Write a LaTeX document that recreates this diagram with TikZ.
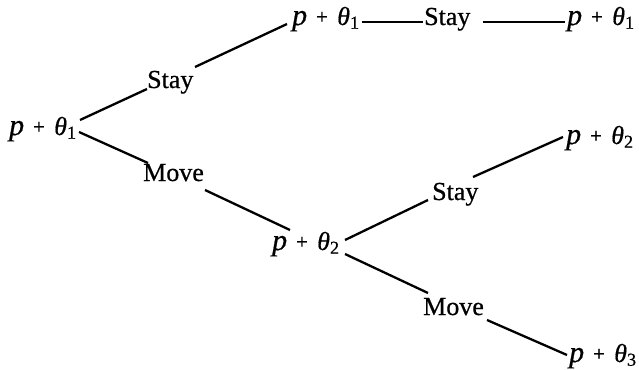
\documentclass[tikz,border=0pt]{standalone}
\usepackage{fontspec}
\setmainfont{Liberation Serif}[FakeBold=0.6]
\newcommand\pplus[1]{{\fontsize{30}{31}\selectfont\textit{p}}\hspace{0.34em}{\fontsize{21}{31}\selectfont\raisebox{0.06em}{+}}\hspace{0.36em}\textit{θ}\textsubscript{#1}}
\tikzset{
  lbl/.style={inner sep=0pt, anchor=base west, font=\fontsize{26}{31}\selectfont},
  branch/.style={line width=2.3pt},
}
\begin{document}
\begin{tikzpicture}[x=1pt,y=-1pt]
\useasboundingbox (0,0) rectangle (639,369);
\node[lbl] (A)  at (9,135)   {\pplus{1}};
\node[lbl] (S1) at (147,88)  {Stay};
\node[lbl] (M1) at (143,181) {Move};
\node[lbl] (B)  at (292,25)  {\pplus{1}};
\node[lbl] (ST) at (424,25)  {Stay};
\node[lbl] (C)  at (567,25)  {\pplus{1}};
\node[lbl] (D)  at (566,144) {\pplus{2}};
\node[lbl] (S2) at (432,200) {Stay};
\node[lbl] (E)  at (272,250) {\pplus{2}};
\node[lbl] (M2) at (423,315) {Move};
\node[lbl] (F)  at (569,362) {\pplus{3}};
\draw[branch] ([shift={(71,-15)}]A.base west) -- ([shift={(0,1)}]S1.base west);
\draw[branch] ([shift={(48,-21)}]S1.base west) -- ([shift={(-5,-1)}]B.base west);
\draw[branch] ([shift={(70,-3)}]A.base west) -- ([shift={(5,-18)}]M1.base west);
\draw[branch] ([shift={(62,9)}]M1.base west) -- ([shift={(18,-20)}]E.base west);
\draw[branch] ([shift={(70,-3)}]B.base west) -- ([shift={(-1,-3)}]ST.base west);
\draw[branch] ([shift={(59,-3)}]ST.base west) -- ([shift={(-2,-3)}]C.base west);
\draw[branch] ([shift={(73,-10)}]E.base west) -- ([shift={(-4,0)}]S2.base west);
\draw[branch] ([shift={(73,4)}]E.base west) -- ([shift={(5,-22)}]M2.base west);
\draw[branch] ([shift={(41,-23)}]S2.base west) -- ([shift={(-3,-7)}]D.base west);
\draw[branch] ([shift={(64,5)}]M2.base west) -- ([shift={(-2,-7)}]F.base west);
\end{tikzpicture}
\end{document}
